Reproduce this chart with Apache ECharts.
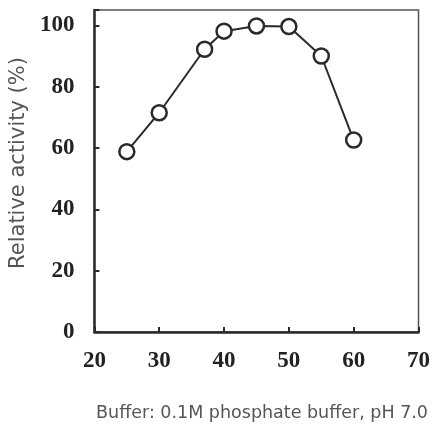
<!DOCTYPE html>
<html>
<head>
<meta charset="utf-8">
<script src="https://cdn.jsdelivr.net/npm/echarts@6/dist/echarts.min.js"></script>
<style>
html,body{margin:0;padding:0;background:#fff;}
#main{width:433px;height:427px;}
</style>
</head>
<body>
<div id="main"></div>
<script>
// temperature (x) and relative activity (y)
var temps = [25, 30, 37, 40, 45, 50, 55, 60];
var activity = [58.8, 71.5, 92.2, 98.1, 99.8, 99.6, 90, 62.6];
var yTitle = 'Relative activity (%)';
var caption = 'Buffer: 0.1M phosphate buffer, pH 7.0';

var myChart = echarts.init(document.getElementById('main'));
var points = temps.map(function(t, i){ return [t, activity[i]]; });

var option = {
	animation : false,
	title : {
		text : caption,
		right : 0,
		bottom : 0,
		textStyle : {
			fontFamily : 'DejaVu Sans',
			fontSize : 17.5,
			fontWeight : 'normal',
			color : '#555555'
		}
	},
	grid : {
		left : 94,
		right : 14,
		top : 10,
		bottom : 95,
		show : true,
		borderColor : '#555555',
		borderWidth : 1.5
	},
	xAxis : {
		type : 'value',
		min : 20,
		max : 70,
		interval : 10,
		splitLine : {show : false},
		axisLine : {lineStyle : {color : '#2a2a2a', width : 2.5}},
		axisTick : {inside : true, length : 5, lineStyle : {color : '#2a2a2a', width : 2}},
		axisLabel : {
			margin : 18,
			fontFamily : 'Liberation Serif',
			fontSize : 23,
			fontWeight : 'bold',
			color : '#222222'
		}
	},
	yAxis : {
		type : 'value',
		min : 0,
		max : 105,
		interval : 20,
		name : yTitle,
		nameLocation : 'middle',
		nameGap : 64,
		nameRotate : 90,
		nameTextStyle : {
			fontFamily : 'DejaVu Sans',
			fontSize : 21,
			color : '#555555',
			padding : [0, 0, 0, 16] // nudge up a little, like the original
		},
		splitLine : {show : false},
		axisLine : {lineStyle : {color : '#2a2a2a', width : 2.5}},
		axisTick : {inside : true, length : 5, lineStyle : {color : '#2a2a2a', width : 2}},
		axisLabel : {
			margin : 20,
			fontFamily : 'Liberation Serif',
			fontSize : 23,
			fontWeight : 'bold',
			color : '#222222',
			formatter : function(v){ return v % 20 === 0 ? v : ''; }
		}
	},
	series : [{
		type : 'line',
		data : points,
		symbol : 'circle',
		symbolSize : 15,
		lineStyle : {color : '#2a2a2a', width : 2},
		itemStyle : {color : '#ffffff', borderColor : '#2a2a2a', borderWidth : 2.5}
	}]
};
myChart.setOption(option);
</script>
</body>
</html>
